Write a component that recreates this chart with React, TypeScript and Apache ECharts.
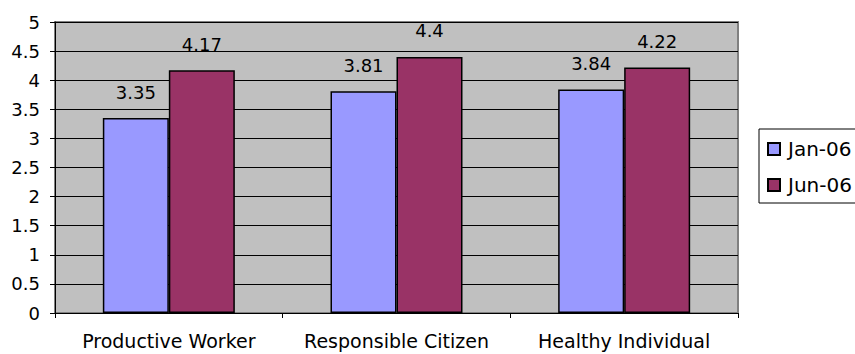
import React, { useEffect, useRef } from "react";
import * as echarts from "echarts";

const categories = ["Productive Worker", "Responsible Citizen", "Healthy Individual"];
const seriesNames = ["Jan-06", "Jun-06"];
const jan06 = [3.35, 3.81, 3.84];
const jun06 = [4.17, 4.4, 4.22];
const yTicks = { min: 0, max: 5, interval: 0.5 };

const FONT = "DejaVu Sans";

export default function App() {
  const ref = useRef<HTMLDivElement>(null);
  useEffect(() => {
    if (!ref.current) return;
    const chart = echarts.init(ref.current, undefined, { renderer: "svg" });
    const label = {
      show: true,
      position: "top",
      distance: 17,
      color: "#000",
      fontFamily: FONT,
      fontSize: 18,
      formatter: (p: any) => String(p.value),
    };
    chart.setOption({
      animation: false,
      backgroundColor: "#fff",
      grid: {
        left: 55,
        top: 22,
        right: 117,
        bottom: 41,
        show: true,
        backgroundColor: "#C0C0C0",
        borderColor: "#808080",
        borderWidth: 2,
      },
      legend: {
        orient: "vertical",
        left: 759,
        top: 129,
        padding: [10, 12, 8, 8],
        itemGap: 16,
        itemWidth: 12,
        itemHeight: 12,
        icon: "rect",
        borderColor: "#000",
        borderWidth: 1,
        backgroundColor: "#fff",
        data: seriesNames,
        textStyle: {
          color: "#000",
          fontFamily: FONT,
          fontSize: 20,
          padding: [0, 0, 0, 3],
        },
      },
      xAxis: {
        type: "category",
        data: categories,
        axisLine: { show: true, lineStyle: { color: "#000", width: 1 } },
        axisTick: { show: true, length: 5, lineStyle: { color: "#000" } },
        axisLabel: {
          color: "#000",
          fontFamily: FONT,
          fontSize: 19,
          margin: 18,
          interval: 0,
          hideOverlap: false,
        },
        splitLine: { show: false },
      },
      yAxis: {
        type: "value",
        min: yTicks.min,
        max: yTicks.max,
        interval: yTicks.interval,
        axisLine: { show: true, lineStyle: { color: "#000", width: 1 } },
        axisTick: { show: true, length: 5, lineStyle: { color: "#000" } },
        axisLabel: {
          color: "#000",
          fontFamily: FONT,
          fontSize: 18,
          margin: 15,
          formatter: (v: number) => String(v),
        },
        splitLine: { show: true, lineStyle: { color: "#000", width: 1 } },
      },
      series: [
        {
          name: seriesNames[0],
          type: "bar",
          data: jan06,
          barWidth: 66,
          barGap: "0%",
          itemStyle: { color: "#9999FF", borderColor: "#000", borderWidth: 1.5 },
          label,
        },
        {
          name: seriesNames[1],
          type: "bar",
          data: jun06,
          barWidth: 66,
          barGap: "0%",
          itemStyle: { color: "#993366", borderColor: "#000", borderWidth: 1.5 },
          label,
        },
      ],
    });
    return () => chart.dispose();
  }, []);
  return (
    <div
      ref={ref}
      style={{ position: "fixed", left: 0, top: 0, width: 855, height: 354 }}
    />
  );
}
